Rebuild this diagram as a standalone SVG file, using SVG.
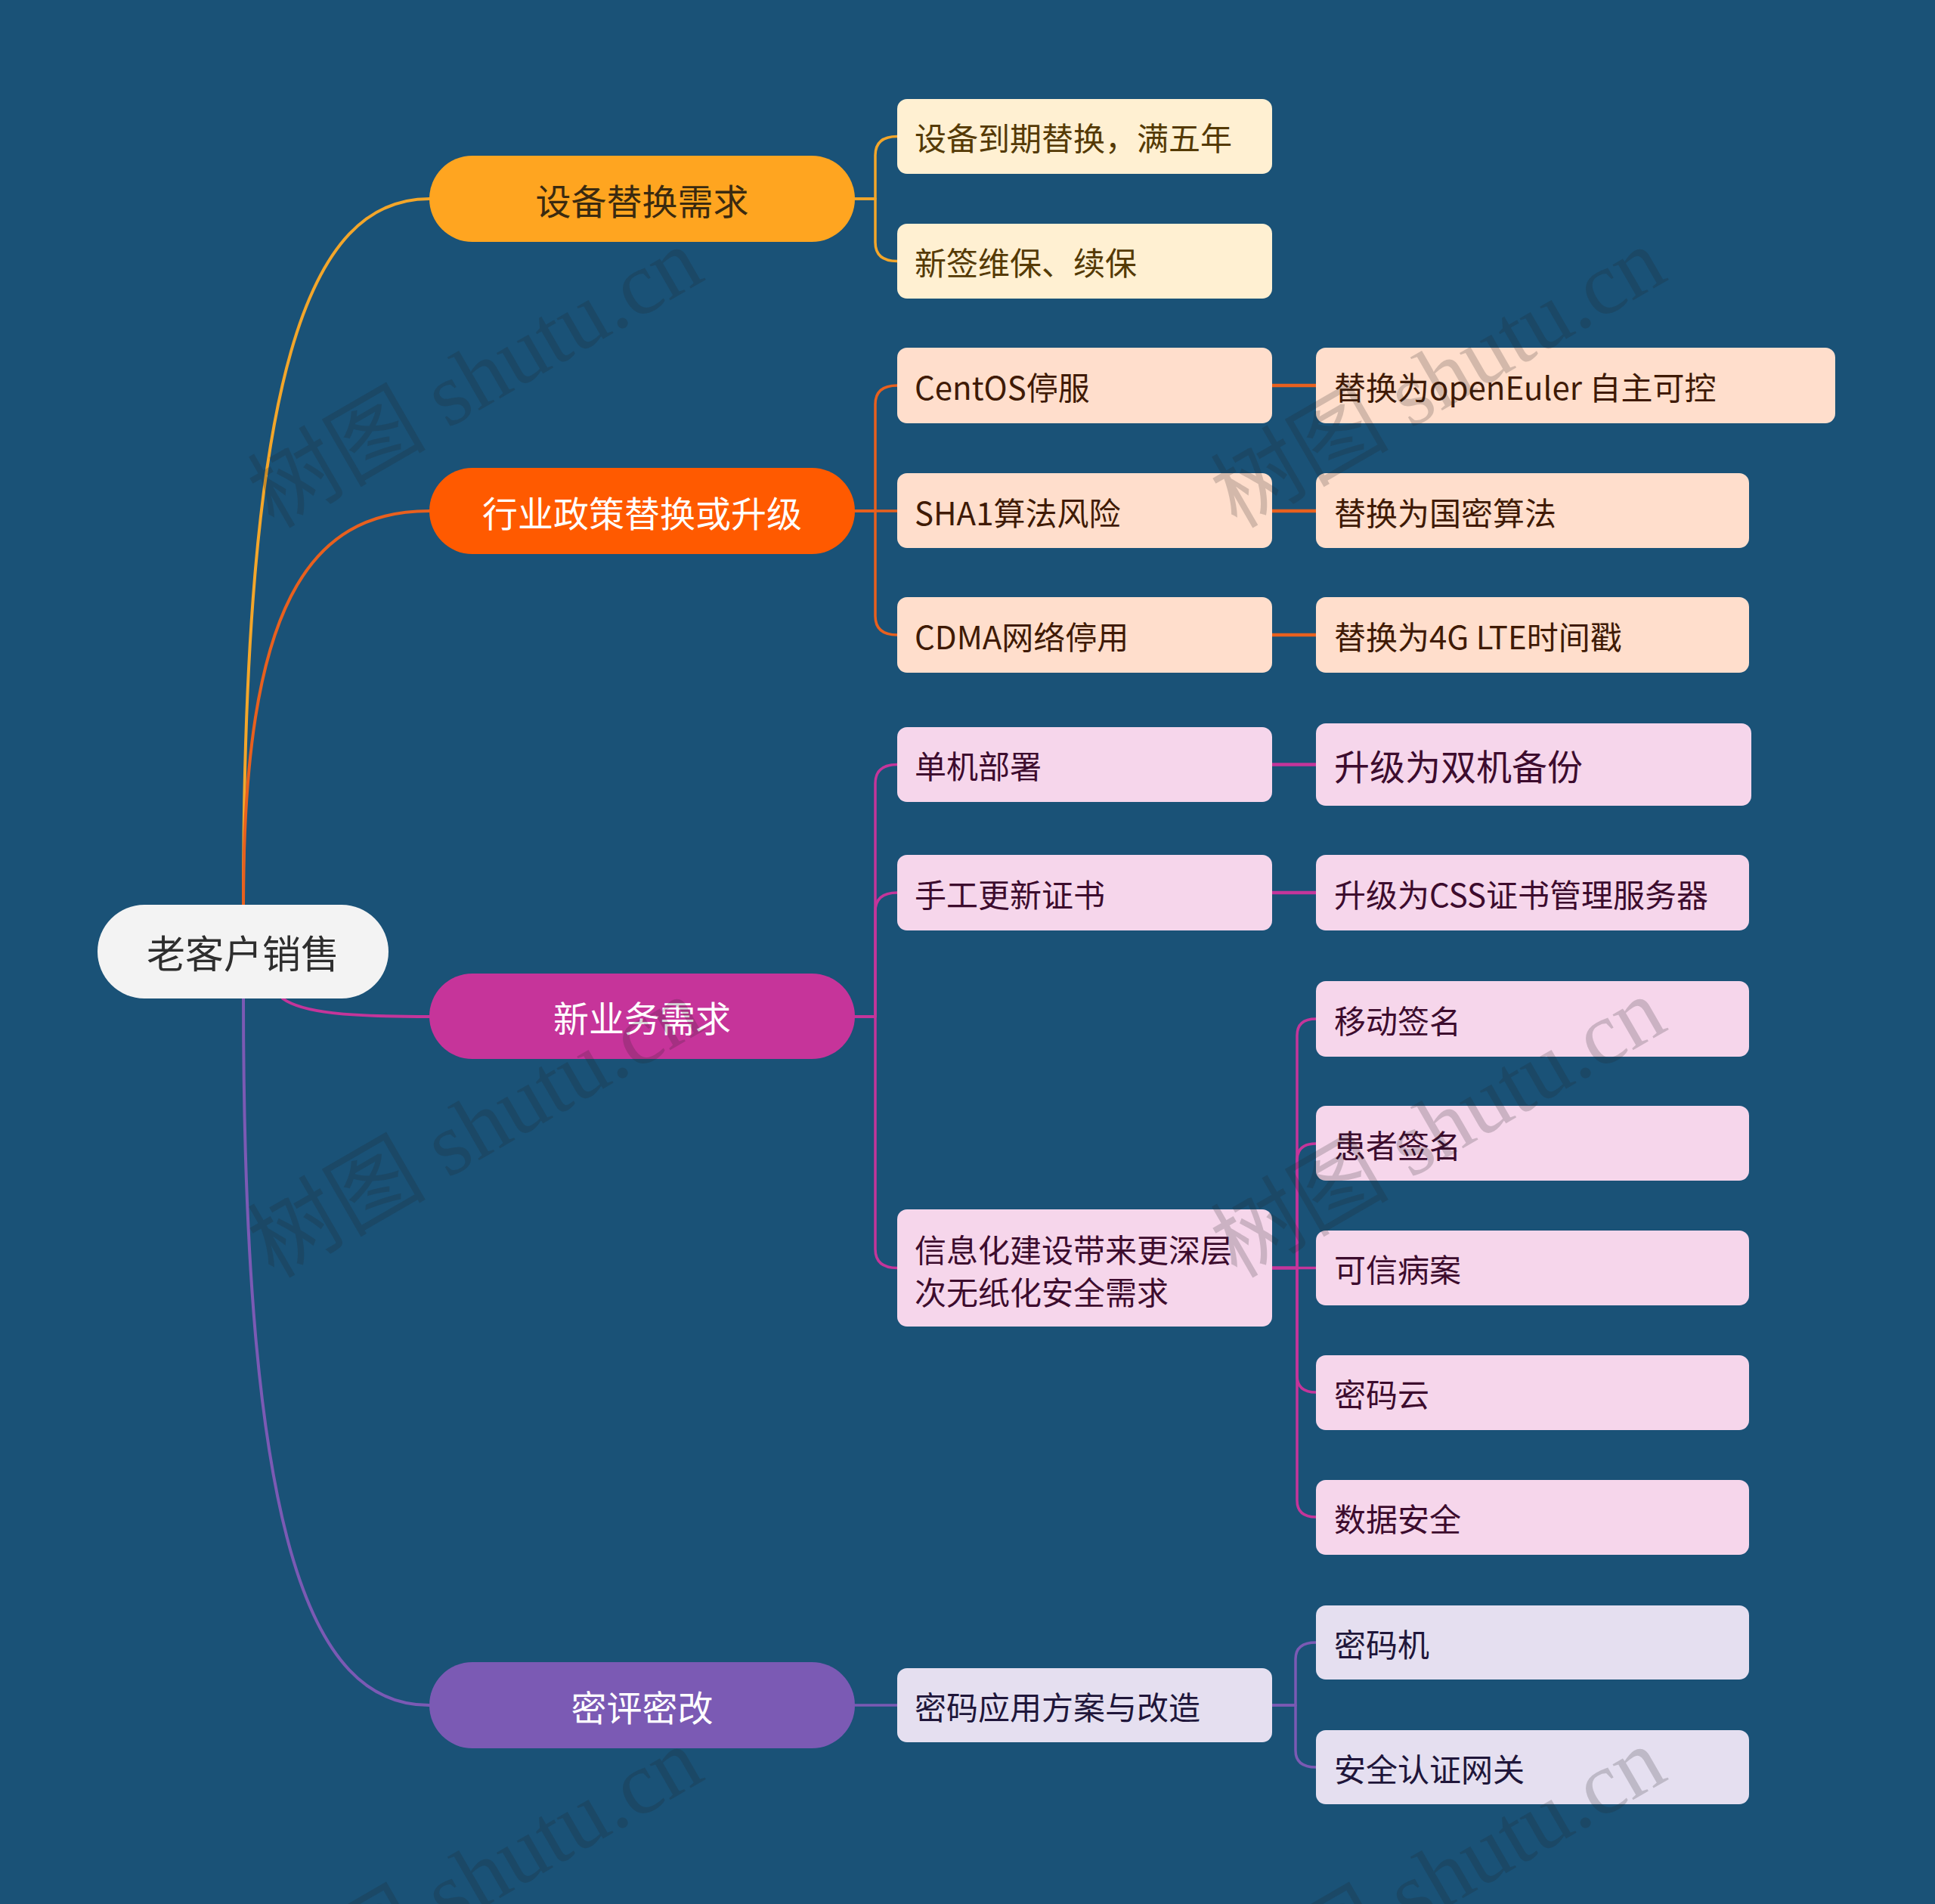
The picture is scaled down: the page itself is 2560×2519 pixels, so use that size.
<svg xmlns="http://www.w3.org/2000/svg" width="2560" height="2519" viewBox="0 0 2560 2519">
<style>
.t{font-family:"Noto Sans CJK SC","Noto Sans",sans-serif;dominant-baseline:central}
.c{text-anchor:middle}
.l1{font-size:47px}
.l2{font-size:42px}
.l3b{font-size:47px}
.root{font-size:51px;fill:#2e2e2e}
.w{fill:#ffffff}
.ln{fill:none;stroke-linecap:round;stroke-linejoin:round}
.y{stroke:#F3A62A}
.o{stroke:#E8601E}
.m{stroke:#C4359A}
.p{stroke:#7B5AB4}
.wm{font-family:"Liberation Serif","Noto Sans CJK SC",serif;font-size:118px;fill:#222222;fill-opacity:0.2}
.ny{fill:#FFF0D2}.ty{fill:#553a05}
.no{fill:#FFDECC}.to{fill:#3f1a05}
.np{fill:#F6D6EB}.tp{fill:#3d0c2e}
.nv{fill:#E5DFF0}.tv{fill:#20163a}
</style>
<rect x="0" y="0" width="2560" height="2519" fill="#1A5277"/>

<g id="connectors">
  <g class="ln" stroke-width="4">
    <path class="y" d="M322,1197 C322,491 408,263 568,263"/>
    <path class="o" d="M322,1197 C322,803 408,676 568,676"/>
    <path class="m" d="M374,1321 C400,1340 460,1345 568,1345"/>
    <path class="p" d="M322,1321 C322,2028 408,2256 568,2256"/>
  </g>
  <g class="ln" stroke-width="3.5">
    <path class="y" d="M1131,263 H1158 V205.5 Q1158,180.5 1187,180.5"/>
    <path class="y" d="M1131,263 H1158 V320.5 Q1158,345.5 1187,345.5"/>
    <path class="o" d="M1131,676 H1158 V535 Q1158,510 1187,510"/>
    <path class="o" d="M1131,676 H1187"/>
    <path class="o" d="M1131,676 H1158 V815 Q1158,840 1187,840"/>
    <path class="o" stroke-width="4.5" d="M1683,510 H1741 M1683,676 H1741 M1683,840 H1741"/>
    <path class="m" d="M1131,1345 H1158 V1036.5 Q1158,1011.5 1187,1011.5"/>
    <path class="m" d="M1131,1345 H1158 V1206 Q1158,1181 1187,1181"/>
    <path class="m" d="M1131,1345 H1158 V1652.5 Q1158,1677.5 1187,1677.5"/>
    <path class="m" stroke-width="4.5" d="M1683,1011.5 H1741 M1683,1181 H1741"/>
    <path class="m" d="M1683,1677.5 H1716 V1370 Q1716,1348 1741,1348"/>
    <path class="m" d="M1683,1677.5 H1716 V1535 Q1716,1513 1741,1513"/>
    <path class="m" d="M1683,1677.5 H1741"/>
    <path class="m" d="M1683,1677.5 H1716 V1820 Q1716,1842 1741,1842"/>
    <path class="m" d="M1683,1677.5 H1716 V1985 Q1716,2007 1741,2007"/>
    <path class="p" d="M1131,2256 H1187"/>
    <path class="p" d="M1683,2256 H1714 V2195 Q1714,2173 1741,2173"/>
    <path class="p" d="M1683,2256 H1714 V2316 Q1714,2338 1741,2338"/>
  </g>
</g>

<g id="root">
  <rect x="129" y="1197" width="385" height="124" rx="62" ry="62" fill="#F3F3F3"/>
  <text class="t c root" x="321.5" y="1259">老客户销售</text>
</g>

<g id="n-shebei">
  <rect x="568" y="206" width="563" height="114" rx="57" fill="#FFA520"/>
  <text class="t c l1" x="849.5" y="263" fill="#3a2a10">设备替换需求</text>
</g>
<g id="n-hangye">
  <rect x="568" y="619" width="563" height="114" rx="57" fill="#FF5A00"/>
  <text class="t c l1 w" x="849.5" y="676">行业政策替换或升级</text>
</g>
<g id="n-xinyewu">
  <rect x="568" y="1288" width="563" height="113" rx="57" fill="#C6349A"/>
  <text class="t c l1 w" x="849.5" y="1344.5">新业务需求</text>
</g>
<g id="n-mipin">
  <rect x="568" y="2199" width="563" height="114" rx="57" fill="#7B5AB4"/>
  <text class="t c l1 w" x="849.5" y="2256">密评密改</text>
</g>

<g id="n-daoqi"><rect class="ny" x="1187" y="131" width="496" height="99" rx="13"/><text class="t l2 ty" x="1210" y="180.5">设备到期替换，满五年</text></g>
<g id="n-weibao"><rect class="ny" x="1187" y="296" width="496" height="99" rx="13"/><text class="t l2 ty" x="1210" y="345.5">新签维保、续保</text></g>

<g id="n-centos"><rect class="no" x="1187" y="460" width="496" height="100" rx="13"/><text class="t l2 to" x="1210" y="510">CentOS停服</text></g>
<g id="n-sha1"><rect class="no" x="1187" y="626" width="496" height="99" rx="13"/><text class="t l2 to" x="1210" y="676">SHA1算法风险</text></g>
<g id="n-cdma"><rect class="no" x="1187" y="790" width="496" height="100" rx="13"/><text class="t l2 to" x="1210" y="840">CDMA网络停用</text></g>
<g id="n-openeuler"><rect class="no" x="1741" y="460" width="687" height="100" rx="13"/><text class="t l2 to" x="1765" y="510">替换为openEuler 自主可控</text></g>
<g id="n-guomi"><rect class="no" x="1741" y="626" width="573" height="99" rx="13"/><text class="t l2 to" x="1765" y="676">替换为国密算法</text></g>
<g id="n-4g"><rect class="no" x="1741" y="790" width="573" height="100" rx="13"/><text class="t l2 to" x="1765" y="840">替换为4G LTE时间戳</text></g>

<g id="n-danji"><rect class="np" x="1187" y="962" width="496" height="99" rx="13"/><text class="t l2 tp" x="1210" y="1011.5">单机部署</text></g>
<g id="n-shougong"><rect class="np" x="1187" y="1131" width="496" height="100" rx="13"/><text class="t l2 tp" x="1210" y="1181">手工更新证书</text></g>
<g id="n-xinxihua"><rect class="np" x="1187" y="1600" width="496" height="155" rx="13"/><text class="t l2 tp" x="1210" y="1651">信息化建设带来更深层</text><text class="t l2 tp" x="1210" y="1707">次无纸化安全需求</text></g>
<g id="n-shuangji"><rect class="np" x="1741" y="957" width="576" height="109" rx="13"/><text class="t l3b tp" x="1765" y="1011.5">升级为双机备份</text></g>
<g id="n-css"><rect class="np" x="1741" y="1131" width="573" height="100" rx="13"/><text class="t l2 tp" x="1765" y="1181">升级为CSS证书管理服务器</text></g>
<g id="n-yidong"><rect class="np" x="1741" y="1298" width="573" height="100" rx="13"/><text class="t l2 tp" x="1765" y="1348">移动签名</text></g>
<g id="n-huanzhe"><rect class="np" x="1741" y="1463" width="573" height="99" rx="13"/><text class="t l2 tp" x="1765" y="1513">患者签名</text></g>
<g id="n-kexin"><rect class="np" x="1741" y="1628" width="573" height="99" rx="13"/><text class="t l2 tp" x="1765" y="1677.5">可信病案</text></g>
<g id="n-mimayun"><rect class="np" x="1741" y="1793" width="573" height="99" rx="13"/><text class="t l2 tp" x="1765" y="1842">密码云</text></g>
<g id="n-shuju"><rect class="np" x="1741" y="1958" width="573" height="99" rx="13"/><text class="t l2 tp" x="1765" y="2007">数据安全</text></g>

<g id="n-fangan"><rect class="nv" x="1187" y="2207" width="496" height="98" rx="13"/><text class="t l2 tv" x="1210" y="2256">密码应用方案与改造</text></g>
<g id="n-mimaji"><rect class="nv" x="1741" y="2124" width="573" height="98" rx="13"/><text class="t l2 tv" x="1765" y="2173">密码机</text></g>
<g id="n-wangguan"><rect class="nv" x="1741" y="2289" width="573" height="98" rx="13"/><text class="t l2 tv" x="1765" y="2338">安全认证网关</text></g>

<g id="watermarks">
  <text class="wm" transform="translate(362,700) rotate(-30)">树图 shutu.cn</text>
  <text class="wm" transform="translate(1636,700) rotate(-30)">树图 shutu.cn</text>
  <text class="wm" transform="translate(362,1692) rotate(-30)">树图 shutu.cn</text>
  <text class="wm" transform="translate(1636,1692) rotate(-30)">树图 shutu.cn</text>
  <text class="wm" transform="translate(362,2684) rotate(-30)">树图 shutu.cn</text>
  <text class="wm" transform="translate(1636,2684) rotate(-30)">树图 shutu.cn</text>
</g>
</svg>
